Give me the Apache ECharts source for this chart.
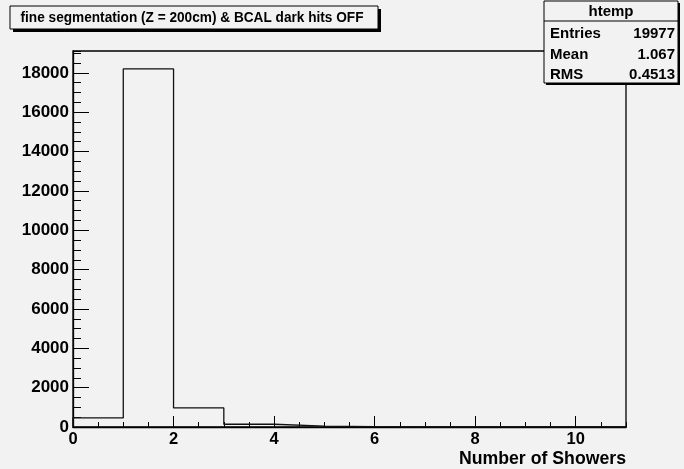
<!DOCTYPE html>
<html>
<head>
<meta charset="utf-8">
<script src="https://cdn.jsdelivr.net/npm/echarts@6/dist/echarts.min.js"></script>
<style>
html,body{margin:0;padding:0;background:#f2f2f2;}
#chart{width:684px;height:469px;}
</style>
</head>
<body>
<div id="chart"></div>
<script>
// ---- data ----
const binEdges = [0, 1, 2, 3, 4, 5, 6, 7, 8, 9, 10, 11];
const counts = [460, 18200, 970, 140, 45, 15, 4, 2, 0, 0, 0];
const yMax = 19110;
const titleText = 'fine segmentation (Z = 200cm) & BCAL dark hits OFF';
const xAxisTitle = 'Number of Showers';
const statsTitle = 'htemp';
const statsLabels = ['Entries', 'Mean', 'RMS'];
const statsValues = ['19977', '1.067', '0.4513'];

const FONT = '"Liberation Sans", Arial, Helvetica, sans-serif';
const BG = '#f2f2f2';

// histogram outline: each bin contributes its left and right edge at its height
const outline = [[binEdges[0], 0]];
for (let i = 0; i < counts.length; i++) {
  outline.push([binEdges[i], counts[i]]);
  outline.push([binEdges[i + 1], counts[i]]);
}
outline.push([binEdges[binEdges.length - 1], 0]);

const chart = echarts.init(document.getElementById('chart'));

const rowY = [34, 55, 75];
const statsGraphics = [];
statsLabels.forEach((l, i) => {
  statsGraphics.push({type: 'text', z: 102, x: 550, y: rowY[i],
    style: {text: l, font: 'bold 15px ' + FONT, fill: '#000', align: 'left', verticalAlign: 'middle'}});
  statsGraphics.push({type: 'text', z: 102, x: 675, y: rowY[i],
    style: {text: statsValues[i], font: 'bold 15px ' + FONT, fill: '#000', align: 'right', verticalAlign: 'middle'}});
});

chart.setOption({
  backgroundColor: BG,
  animation: false,
  grid: {left: 73, top: 51, right: 58, bottom: 42, show: true, borderColor: '#000', borderWidth: 1.3, backgroundColor: 'transparent'},
  xAxis: [
    {type: 'value', min: 0, max: 11, interval: 2, position: 'bottom',
     axisLine: {show: true, lineStyle: {color: '#000', width: 1.3}},
     axisTick: {show: true, inside: true, length: 11, lineStyle: {color: '#000'}},
     axisLabel: {fontSize: 16.5, fontWeight: 'bold', fontFamily: FONT, color: '#000', margin: 4, showMaxLabel: false},
     splitLine: {show: false}},
    {type: 'value', min: 0, max: 11, interval: 0.5, position: 'bottom',
     axisLine: {show: false},
     axisTick: {show: true, inside: true, length: 5, lineStyle: {color: '#000'}},
     axisLabel: {show: false}, splitLine: {show: false}}
  ],
  yAxis: [
    {type: 'value', min: 0, max: yMax, interval: 2000, position: 'left',
     axisLine: {show: true, lineStyle: {color: '#000', width: 1.3}},
     axisTick: {show: true, inside: true, length: 16, lineStyle: {color: '#000'}},
     axisLabel: {fontSize: 17, fontWeight: 'bold', fontFamily: FONT, color: '#000', margin: 4, showMaxLabel: false,
                 formatter: v => String(v)},
     splitLine: {show: false}},
    {type: 'value', min: 0, max: yMax, interval: 500, position: 'left',
     axisLine: {show: false},
     axisTick: {show: true, inside: true, length: 8, lineStyle: {color: '#000'}},
     axisLabel: {show: false}, splitLine: {show: false}}
  ],
  series: [{
    type: 'line', xAxisIndex: 0, yAxisIndex: 0,
    data: outline, showSymbol: false, symbol: 'none',
    lineStyle: {color: '#111', width: 1.3}, silent: true
  }],
  graphic: [
    // title box
    {type: 'rect', z: 100, shape: {x: 13, y: 9, width: 368, height: 23}, style: {fill: '#000'}},
    {type: 'rect', z: 101, shape: {x: 10, y: 6, width: 368, height: 23}, style: {fill: BG, stroke: '#000', lineWidth: 1}},
    {type: 'text', z: 102, x: 192, y: 18, scaleX: 0.88,
     style: {text: titleText, font: 'bold 15.5px ' + FONT, fill: '#000', align: 'center', verticalAlign: 'middle'}},
    // stats box
    {type: 'rect', z: 100, shape: {x: 546, y: 3, width: 134, height: 82}, style: {fill: '#000'}},
    {type: 'rect', z: 101, shape: {x: 544, y: 1, width: 134, height: 82}, style: {fill: BG, stroke: '#000', lineWidth: 1}},
    {type: 'line', z: 102, shape: {x1: 544, y1: 21, x2: 678, y2: 21}, style: {stroke: '#000', lineWidth: 1}},
    {type: 'text', z: 102, x: 611, y: 12,
     style: {text: statsTitle, font: 'bold 15px ' + FONT, fill: '#000', align: 'center', verticalAlign: 'middle'}},
    ...statsGraphics,
    // x axis title
    {type: 'text', z: 102, x: 626, y: 459,
     style: {text: xAxisTitle, font: 'bold 17.7px ' + FONT, fill: '#000', align: 'right', verticalAlign: 'middle'}}
  ]
});
</script>
</body>
</html>
